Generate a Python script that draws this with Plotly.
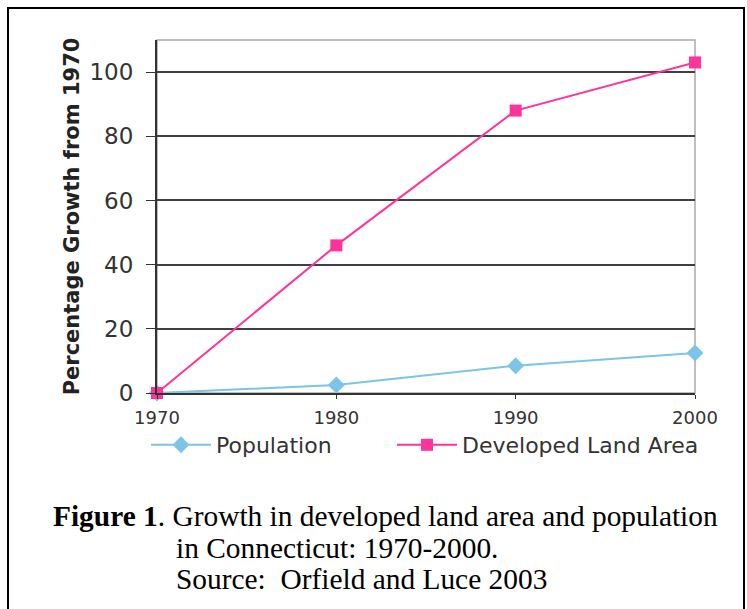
import plotly.graph_objects as go

years = [1970, 1980, 1990, 2000]
population = [0, 2.5, 8.5, 12.5]
developed_land = [0, 46, 88, 103]
y_ticks = [0, 20, 40, 60, 80, 100]

W, H = 747, 609
L, R, T, B = 157, 695, 40, 393  # plot area in pixels


def px(x):
    return (x - L) / (R - L)


def py(y):
    return (B - y) / (B - T)


fig = go.Figure()
fig.add_trace(go.Scatter(
    x=years, y=population, name="Population", mode="lines+markers",
    line=dict(color="#7CC4E8", width=2),
    marker=dict(symbol="diamond", size=13, color="#7CC4E8"),
    legend="legend", cliponaxis=False,
))
fig.add_trace(go.Scatter(
    x=years, y=developed_land, name="Developed Land Area", mode="lines+markers",
    line=dict(color="#FF3399", width=2),
    marker=dict(symbol="square", size=12, color="#FF3399"),
    legend="legend2", cliponaxis=False,
))

shapes = [
    dict(type="rect", xref="paper", yref="paper",
         x0=px(8), x1=px(744), y0=py(620), y1=py(8),
         line=dict(color="black", width=2), layer="below"),
    dict(type="rect", xref="paper", yref="paper",
         x0=0, x1=1, y0=0, y1=1,
         line=dict(color="#AAAAAA", width=1.5), layer="below"),
]

cap_font = dict(family="Liberation Serif", size=29.4, color="black")
annotations = [
    dict(text="<b>Figure 1</b>. Growth in developed land area and population",
         xref="paper", yref="paper", x=px(51), y=py(516), xanchor="left", yanchor="middle",
         showarrow=False, font=cap_font),
    dict(text="in Connecticut: 1970-2000.",
         xref="paper", yref="paper", x=px(174), y=py(548), xanchor="left", yanchor="middle",
         showarrow=False, font=cap_font),
    dict(text="Source:  Orfield and Luce 2003",
         xref="paper", yref="paper", x=px(174), y=py(579), xanchor="left", yanchor="middle",
         showarrow=False, font=cap_font),
]

leg_font = dict(family="DejaVu Sans", size=22, color="#333333")
fig.update_layout(
    width=W, height=H,
    margin=dict(l=L, r=W - R, t=T, b=H - B, pad=0),
    paper_bgcolor="white", plot_bgcolor="white",
    showlegend=True,
    legend=dict(orientation="h", x=px(146), y=py(424), xanchor="left", yanchor="top",
                font=leg_font, itemwidth=60, bgcolor="rgba(0,0,0,0)"),
    legend2=dict(orientation="h", x=px(392), y=py(424), xanchor="left", yanchor="top",
                 font=leg_font, itemwidth=60, bgcolor="rgba(0,0,0,0)"),
    shapes=shapes,
    annotations=annotations,
    xaxis=dict(range=[1970, 2000], tickvals=years, ticktext=[str(y) for y in years],
               showgrid=False, zeroline=False, showline=True, linecolor="#333333", linewidth=2,
               ticks="outside", ticklen=4, tickcolor="#333333", ticklabelstandoff=3,
               tickfont=dict(family="DejaVu Sans", size=18, color="#333333")),
    yaxis=dict(range=[0, 110], tickvals=y_ticks, showgrid=True, gridcolor="#404040", gridwidth=2,
               zeroline=False, showline=True, linecolor="#333333", linewidth=2,
               ticks="outside", ticklen=9, tickcolor="#333333", ticklabelstandoff=8,
               tickfont=dict(family="DejaVu Sans", size=23, color="#333333"),
               title=dict(text="<b>Percentage Growth from 1970</b>", standoff=4,
                          font=dict(family="DejaVu Sans", size=21, color="#222222"))),
)

fig.write_html("out.html", config={"displayModeBar": False},
               post_script="document.body.style.margin='0';document.body.style.overflow='hidden';")
